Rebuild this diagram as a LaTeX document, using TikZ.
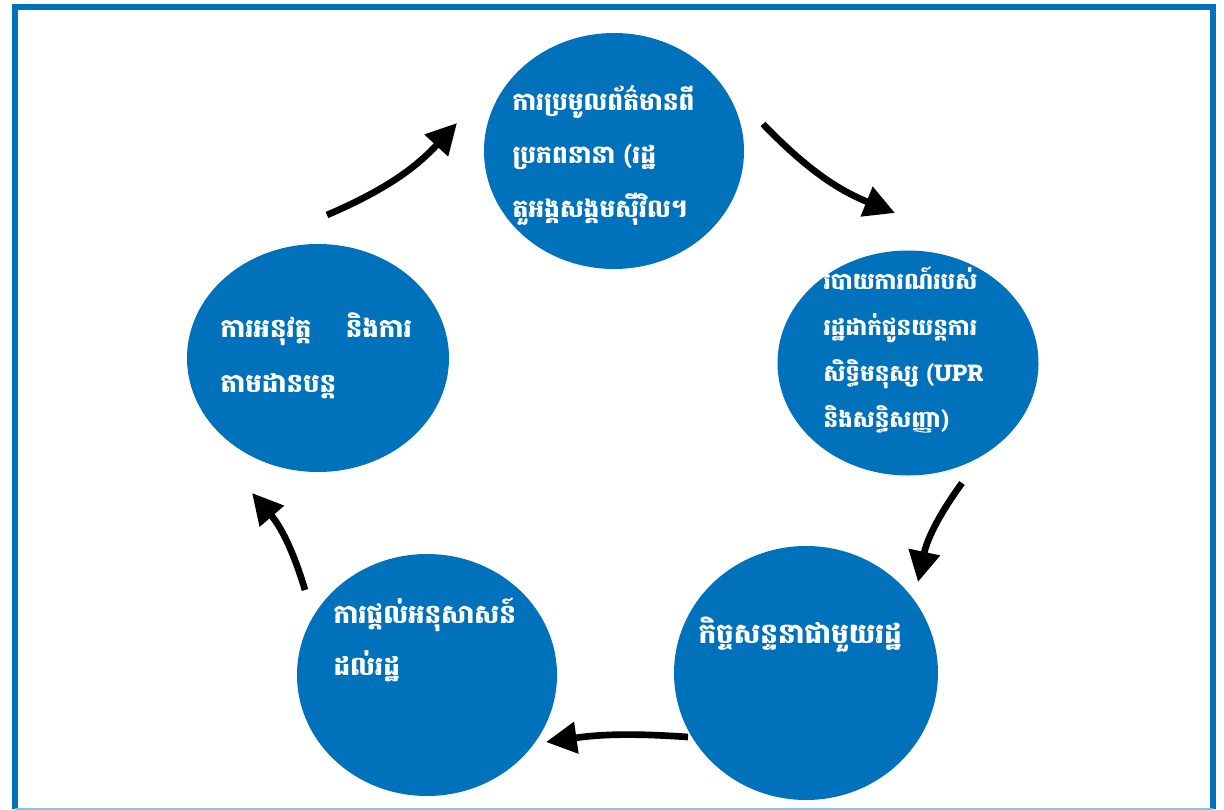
\documentclass[tikz,border=0pt]{standalone}
\usepackage{fontspec}
\newfontfamily\khmerfont[Script=Khmer]{Battambang}
\usetikzlibrary{shapes.geometric,arrows.meta}
\definecolor{ohchrblue}{RGB}{0,114,188}
\definecolor{framelight}{RGB}{140,190,230}

\tikzset{every picture/.style={line width=0.75pt}}
\tikzset{
  stage/.style={ellipse,fill=ohchrblue,draw=none,inner sep=0pt},
  stagetext/.style={anchor=base west,inner sep=0pt,align=left,text=white,font=\khmerfont\bfseries\fontsize{19.5}{40}\selectfont},
  cycarrow/.style={line width=5pt,-{Triangle[length=23pt,width=23pt]}}
}

\begin{document}
\begin{tikzpicture}[x=0.75pt,y=0.75pt,yscale=-1,xscale=1]
\useasboundingbox (0,0) rectangle (1224,810);

%Frame
        \draw [ohchrblue,line width=4pt]  (15,809) -- (15,7) -- (1213,7) -- (1213,809) ;
        \draw [framelight,line width=1.2pt]  (15,809) -- (1213,809) ;

% Stages
        \node [stage,minimum width=260pt*0.75,minimum height=236pt*0.75] (gather) at (614,151) {};
        \node [stage,minimum width=261pt*0.75,minimum height=225pt*0.75] (report) at (908,363) {};
        \node [stage,minimum width=264pt*0.75,minimum height=254pt*0.75] (dialogue) at (806,673) {};
        \node [stage,minimum width=260pt*0.75,minimum height=242pt*0.75] (recommend) at (427,675) {};
        \node [stage,minimum width=262pt*0.75,minimum height=228pt*0.75] (followup) at (318,358) {};

% Text Node (base anchor = last line)
        \node [stagetext,font=\khmerfont\bfseries\fontsize{18.7}{40}\selectfont] (gathertxt) at (512,217) {ការប្រមូលព័ត៌មានពី\\ប្រភពនានា (រដ្ឋ\\តួអង្គសង្គមស៊ីវិល។};
% Text Node
        \node [stagetext,font=\khmerfont\bfseries\fontsize{17.3}{34.5}\selectfont] (reporttxt) at (823,427) {របាយការណ៍របស់\\រដ្ឋដាក់ជូនយន្តការ\\សិទ្ធិមនុស្ស (UPR\\និងសន្ធិសញ្ញា)};
% Text Node
        \node [stagetext,font=\khmerfont\bfseries\fontsize{20.9}{40}\selectfont] (dialoguetxt) at (698,643) {កិច្ចសន្ទនាជាមួយរដ្ឋ};
% Text Node
        \node [stagetext,font=\khmerfont\bfseries\fontsize{19.6}{39}\selectfont] (recommendtxt) at (333,675) {ការផ្តល់អនុសាសន៍\\ដល់រដ្ឋ};
% Text Node
        \node [stagetext,font=\khmerfont\bfseries\fontsize{19.5}{41}\selectfont] (followuptxt) at (220,392) {ការអនុវត្ត\hspace{26pt}និងការ\\តាមដានបន្ត};

% Connection points
        \coordinate (a1s) at (327,215); \coordinate (a1e) at (457,123);
        \coordinate (a2s) at (763,124); \coordinate (a2e) at (895,213);
        \coordinate (a3s) at (962,483); \coordinate (a3e) at (918,582);
        \coordinate (a4s) at (688,737); \coordinate (a4e) at (546,742);
        \coordinate (a5s) at (305,590); \coordinate (a5e) at (252,493);

% Connection
        \draw [cycarrow] (a1s) to [bend left=12] (a1e) ;
        \draw [cycarrow] (a2s) to [bend left=12] (a2e) ;
        \draw [cycarrow] (a3s) to [bend left=12] (a3e) ;
        \draw [cycarrow] (a4s) to [bend left=6] (a4e) ;
        \draw [cycarrow] (a5s) to [bend left=12] (a5e) ;

\end{tikzpicture}
\end{document}
